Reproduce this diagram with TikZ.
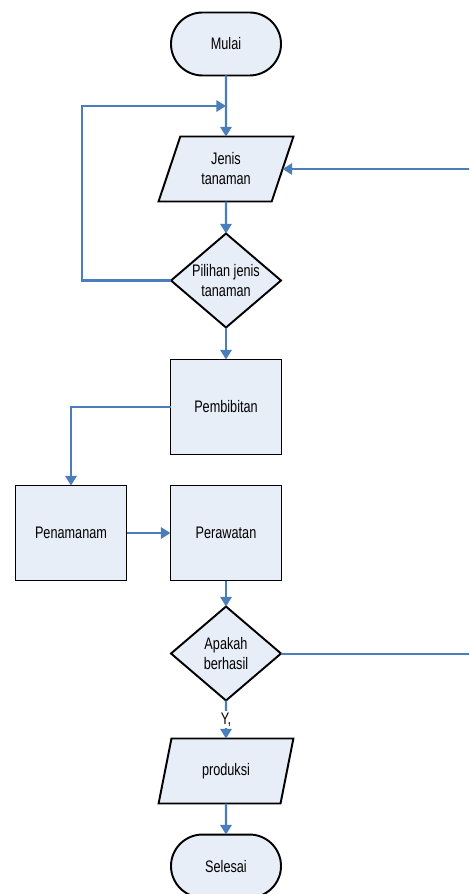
\documentclass[tikz,border=0pt]{standalone}
\usepackage{fontspec}
\setmainfont[FakeStretch=0.76]{Liberation Sans}
\usepackage{tikz}
\usetikzlibrary{calc,positioning,arrows.meta,shapes.geometric,shapes.misc}

\begin{document}
\begin{tikzpicture}[
            font=\fontsize{9.5}{11.4}\selectfont,
            arr/.style={draw=lnx,line width=1.15pt,-{Triangle[length=5.5pt,width=6.5pt]}}
        ]
            \definecolor{flx}{HTML}{E8EEF8}
            \definecolor{lnx}{HTML}{4A7EBB}

            \clip (0,0) rectangle (9.38,-17.88);

            \begin{scope}[
                every node/.style={draw,line width=1.1pt,fill=flx,align=center,inner sep=0pt,outer sep=0pt},
                term/.style={rounded rectangle,minimum width=2.2cm,minimum height=1.26cm},
                io/.style={trapezium,trapezium left angle=70,trapezium right angle=110,trapezium stretches,minimum width=2.7cm,minimum height=1.3cm},
                proc/.style={rectangle,minimum width=2.22cm,minimum height=1.9cm},
                deci/.style={diamond,aspect=1.17,minimum width=2.2cm,minimum height=1.88cm}
            ]
                \node (mulai) [term] at (4.52,-0.88)           {Mulai};
                \node (jenis) [io,below=1.22cm of mulai]       {Jenis\\tanaman};
                \node (pilih) [deci,below=0.64cm of jenis]     {Pilihan jenis\\tanaman};
                \node (bibit) [proc,below=0.64cm of pilih]     {Pembibitan};
                \node (rawat) [proc,below=0.62cm of bibit]     {Perawatan};
                \node (tanam) [proc,left=0.88cm of rawat]      {Penamanam};
                \node (hasil) [deci,below=0.52cm of rawat]     {Apakah\\berhasil};
                \node (prod)  [io,below=0.76cm of hasil]       {produksi};
                \node (selesai) [term,below=0.62cm of prod]    {Selesai};
            \end{scope}

            \coordinate (join) at ($(mulai.south)!0.5!(jenis.north)$);
            \coordinate (lp) at (1.64,0);
            \coordinate (rp) at (9.45,0);

            \draw [arr] (mulai) -- (jenis);
            \draw [arr] (jenis) -- (pilih);
            \draw [arr] (pilih) -- (bibit);
            \draw [arr] (pilih.west) -- (pilih.west -| lp) |- (join);
            \draw [arr] (bibit.west) -| (tanam.north);
            \draw [arr] (tanam) -- (rawat);
            \draw [arr] (rawat) -- (hasil);
            \draw [arr] (hasil) -- node[fill=white,inner sep=1pt]{Y,} (prod);
            \draw [arr] (hasil.east) -- (hasil.east -| rp) |- (jenis.east);
            \draw [arr] (prod) -- (selesai);
        \end{tikzpicture}
\end{document}
